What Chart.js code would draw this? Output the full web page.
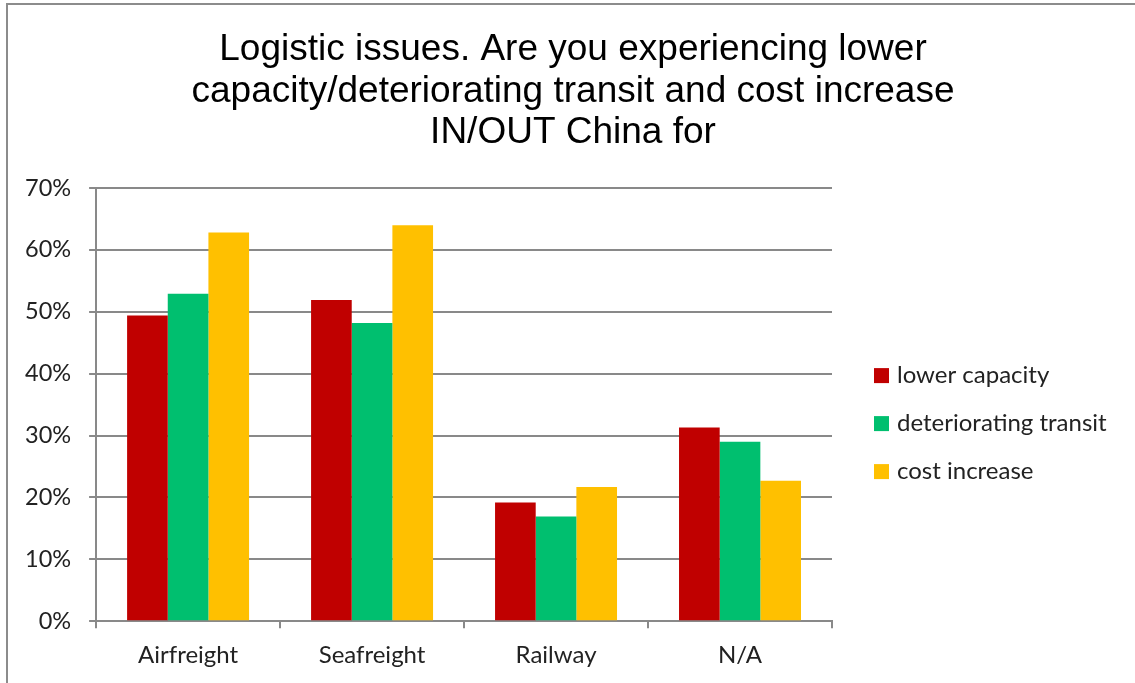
<!DOCTYPE html>
<html>
<head>
<meta charset="utf-8">
<script src="https://cdn.jsdelivr.net/npm/chart.js@4/dist/chart.umd.min.js"></script>
<style>
  html, body { margin: 0; padding: 0; background: #fff; }
  .edge { position: absolute; background: #8c8c8c; }
  #chart { position: absolute; left: 0; top: 0; display: block; }
</style>
</head>
<body>
<div class="edge" style="left:6px; top:3px; width:1129px; height:2px;"></div>
<div class="edge" style="left:6px; top:3px; width:2px; height:680px;"></div>
<canvas id="chart" width="1135" height="683"></canvas>
<script>
// categories and series (percent)
const categories = ['Airfreight', 'Seafreight', 'Railway', 'N/A'];
const lowerCapacity = [49.4, 51.9, 19.2, 31.3];
const deterioratingTransit = [52.9, 48.2, 16.9, 29.0];
const costIncrease = [62.8, 64.0, 21.7, 22.7];
const seriesNames = ['lower capacity', 'deteriorating transit', 'cost increase'];
const seriesColors = ['#C00000', '#00BF6F', '#FFC000'];
const titleLines = [
    'Logistic issues. Are you experiencing lower',
    'capacity/deteriorating transit and cost increase',
    'IN/OUT China for'
];

const gridGray = '#898989';
const textColor = '#222';
const labelFont = 'Lato, "Open Sans", sans-serif';

// title over the whole picture and legend to the right of the plot, like the Excel one
const sideDecor = {
    id: 'sideDecor',
    afterDraw(chart) {
        const c = chart.ctx;
        const area = chart.chartArea;
        c.save();

        c.font = '37px "Liberation Sans", Arial, sans-serif';
        c.fillStyle = '#000';
        c.textAlign = 'center';
        c.textBaseline = 'middle';
        titleLines.forEach((line, i) => {
            c.fillText(line, 573, 50 + i * 41.5);
        });

        const x = area.right + 42;
        const midY = (area.top + area.bottom) / 2 + 19;
        const step = 48;
        c.font = '24px ' + labelFont;
        c.textAlign = 'left';
        chart.data.datasets.forEach((ds, i) => {
            const cy = midY + (i - 1) * step;
            c.fillStyle = ds.backgroundColor;
            c.fillRect(x, cy - 7.5, 15, 15);
            c.fillStyle = textColor;
            c.fillText(ds.label, x + 23, cy);
        });
        c.restore();
    }
};

document.addEventListener('DOMContentLoaded', function() {
    const ctx = document.getElementById('chart').getContext('2d');
    new Chart(ctx, {
        type: 'bar',
        data: {
            labels: categories,
            datasets: [{
                label: seriesNames[0],
                data: lowerCapacity,
                backgroundColor: seriesColors[0]
            }, {
                label: seriesNames[1],
                data: deterioratingTransit,
                backgroundColor: seriesColors[1]
            }, {
                label: seriesNames[2],
                data: costIncrease,
                backgroundColor: seriesColors[2]
            }]
        },
        options: {
            responsive: false,
            animation: false,
            layout: { padding: { left: 7, right: 303, top: 188, bottom: 0 } },
            datasets: {
                bar: { categoryPercentage: 0.663, barPercentage: 1.0 }
            },
            plugins: {
                title: { display: false },
                legend: { display: false },
                tooltip: { enabled: false }
            },
            scales: {
                x: {
                    grid: {
                        drawOnChartArea: false,
                        offset: true,
                        color: gridGray,
                        lineWidth: 2,
                        tickLength: 7
                    },
                    border: { color: gridGray, width: 2 },
                    ticks: {
                        color: textColor,
                        font: { family: labelFont, size: 24 },
                        padding: 13
                    }
                },
                y: {
                    min: 0,
                    max: 70,
                    grid: {
                        color: gridGray,
                        lineWidth: 2,
                        tickLength: 7
                    },
                    border: { color: gridGray, width: 2 },
                    ticks: {
                        stepSize: 10,
                        color: textColor,
                        font: { family: labelFont, size: 23.5 },
                        padding: 18,
                        callback: function(value) { return value + '%'; }
                    }
                }
            }
        },
        plugins: [sideDecor]
    });
});
</script>
</body>
</html>
